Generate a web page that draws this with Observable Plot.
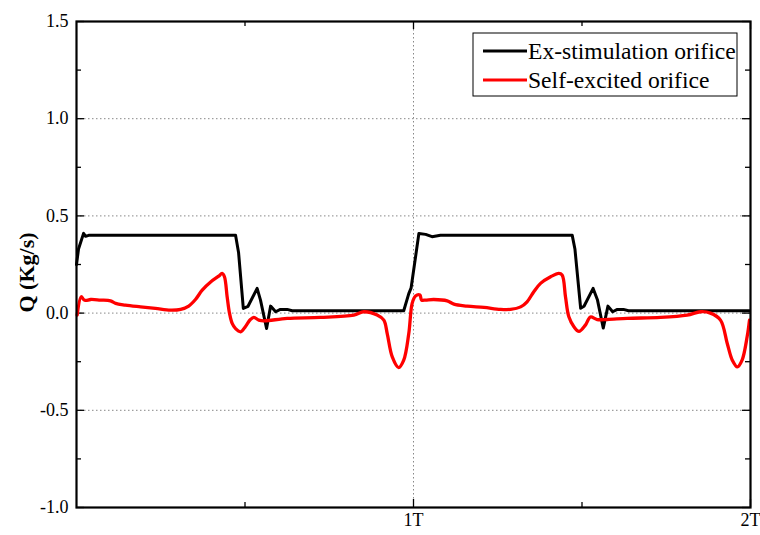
<!DOCTYPE html>
<html>
<head>
<meta charset="utf-8">
<script src="https://cdn.jsdelivr.net/npm/d3@7"></script>
<script src="https://cdn.jsdelivr.net/npm/@observablehq/plot@0.6"></script>
<style>
  html, body { margin: 0; padding: 0; background: #fff; }
  #chart { width: 760px; height: 535px; }
</style>
</head>
<body>
<div id="chart"></div>
<script>
// Time in periods (T), flow Q in Kg/s
const exT = [0.000,0.006,0.021,0.027,0.036,0.472,0.481,0.495,0.509,0.536,0.546,0.564,0.576,0.591,0.605,0.625,0.640,0.971,0.986,0.993,1.016,1.036,1.055,1.080,1.471,1.479,1.496,1.506,1.533,1.546,1.563,1.577,1.591,1.605,1.623,1.638,1.997];
const exQ = [0.25,0.33,0.41,0.395,0.40,0.40,0.31,0.024,0.035,0.127,0.067,-0.079,0.036,0.007,0.019,0.019,0.012,0.012,0.10,0.13,0.41,0.405,0.393,0.40,0.40,0.33,0.025,0.035,0.127,0.067,-0.077,0.036,0.007,0.019,0.019,0.012,0.012];

const seT = [0.002,0.014,0.021,0.027,0.042,0.071,0.101,0.116,0.145,0.190,0.234,0.279,0.309,0.333,0.353,0.373,0.398,0.422,0.432,0.439,0.447,0.454,0.462,0.472,0.487,0.501,0.516,0.526,0.541,0.556,0.625,0.724,0.823,0.853,0.892,0.912,0.922,0.937,0.956,0.971,0.986,0.996,1.006,1.019,1.024,1.036,1.060,1.100,1.120,1.159,1.209,1.258,1.288,1.318,1.337,1.357,1.377,1.407,1.431,1.441,1.451,1.461,1.476,1.491,1.510,1.525,1.545,1.575,1.634,1.733,1.812,1.852,1.881,1.911,1.931,1.946,1.961,1.975,1.990,1.997];
const seQ = [-0.01,0.084,0.07,0.065,0.07,0.067,0.063,0.05,0.041,0.032,0.024,0.015,0.019,0.036,0.07,0.118,0.16,0.19,0.204,0.187,0.084,0.0,-0.053,-0.08,-0.096,-0.07,-0.033,-0.022,-0.036,-0.04,-0.027,-0.022,-0.01,0.007,-0.01,-0.036,-0.105,-0.225,-0.28,-0.242,-0.105,0.05,0.088,0.093,0.067,0.067,0.07,0.063,0.046,0.036,0.029,0.019,0.019,0.032,0.058,0.11,0.153,0.187,0.204,0.196,0.084,-0.019,-0.07,-0.094,-0.062,-0.02,-0.033,-0.033,-0.027,-0.022,-0.01,0.007,0.0,-0.036,-0.156,-0.242,-0.277,-0.242,-0.122,-0.036];

const seriesNames = ["Ex-stimulation orifice", "Self-excited orifice"];
const seriesColors = ["#000000", "#ff0000"];
const yTickLabels = [-1.0, -0.5, 0.0, 0.5, 1.0, 1.5];
const yMinorTicks = [-0.75, -0.25, 0.25, 0.75, 1.25];
const yGrid = [-0.5, 0.0, 0.5, 1.0];
const xTickLabels = [1, 2];
const xMinorTicks = [0.5, 1.5];
const xGrid = [1];
const yLabel = "Q (Kg/s)";

const ex = exT.map((t, i) => ({t, q: exQ[i]}));
const se = seT.map((t, i) => ({t, q: seQ[i]}));

const W = 760, H = 535;
const mL = 76, mR = 10, mT = 21, mB = 28;
const fw = W - mL - mR, fh = H - mT - mB;
const majorLen = 8, minorLen = 5;
const FONT = "'Liberation Serif', 'Times New Roman', Times, serif";

const chart = Plot.plot({
  width: W, height: H,
  marginLeft: mL, marginRight: mR, marginTop: mT, marginBottom: mB,
  style: {fontFamily: FONT, fontSize: "18px", background: "#fff", color: "#000"},
  x: {domain: [0, 2], axis: null},
  y: {domain: [-1, 1.5], axis: null},
  marks: [
    Plot.ruleY(yGrid, {stroke: "#888", strokeDasharray: "1.5,2.5", strokeWidth: 1}),
    Plot.ruleX(xGrid, {stroke: "#888", strokeDasharray: "1.5,2.5", strokeWidth: 1}),
    // inward ticks left & right
    Plot.ruleY(yTickLabels, {stroke: "#000", strokeWidth: 1.3, insetRight: fw - majorLen}),
    Plot.ruleY(yMinorTicks, {stroke: "#000", strokeWidth: 1.3, insetRight: fw - minorLen}),
    Plot.ruleY(yTickLabels, {stroke: "#000", strokeWidth: 1.3, insetLeft: fw - majorLen}),
    Plot.ruleY(yMinorTicks, {stroke: "#000", strokeWidth: 1.3, insetLeft: fw - minorLen}),
    // inward ticks bottom & top
    Plot.ruleX(xTickLabels, {stroke: "#000", strokeWidth: 1.3, insetTop: fh - majorLen}),
    Plot.ruleX(xMinorTicks, {stroke: "#000", strokeWidth: 1.3, insetTop: fh - minorLen}),
    Plot.ruleX(xTickLabels, {stroke: "#000", strokeWidth: 1.3, insetBottom: fh - majorLen}),
    Plot.ruleX(xMinorTicks, {stroke: "#000", strokeWidth: 1.3, insetBottom: fh - minorLen}),
    Plot.line(ex, {x: "t", y: "q", stroke: seriesColors[0], strokeWidth: 3, curve: "linear"}),
    Plot.line(se, {x: "t", y: "q", stroke: seriesColors[1], strokeWidth: 3.3, curve: "catmull-rom"}),
    Plot.frame({stroke: "#000", strokeWidth: 2.2}),
    Plot.axisY(yTickLabels, {tickSize: 0, tickPadding: 8, tickFormat: d => d.toFixed(1), fontSize: 18, label: null}),
    Plot.axisX(xTickLabels, {tickSize: 0, tickPadding: 6, tickFormat: d => d + "T", fontSize: 18, label: null}),
    Plot.text([yLabel], {frameAnchor: "left", textAnchor: "middle", dx: -50, dy: 8, rotate: -90, fontWeight: "bold", fontSize: 22, fill: "#000"})
  ]
});

document.getElementById("chart").appendChild(chart);

// Legend box inside plot area (top-right)
const svg = d3.select(chart);
const lg = svg.append("g").attr("transform", `translate(${W - mR - 13 - 264},${mT + 12})`);
lg.append("rect").attr("x", 0).attr("y", 0).attr("width", 264).attr("height", 63)
  .attr("fill", "#fff").attr("stroke", "#000").attr("stroke-width", 1);
seriesNames.forEach((name, i) => {
  const yy = 18 + i * 29;
  lg.append("line").attr("x1", 10).attr("x2", 54).attr("y1", yy).attr("y2", yy)
    .attr("stroke", seriesColors[i]).attr("stroke-width", 3);
  lg.append("text").attr("x", 55).attr("y", yy).attr("dy", "0.35em")
    .attr("text-anchor", "start")
    .attr("font-family", FONT)
    .attr("font-size", 23.6).attr("fill", "#000").text(name);
});
</script>
</body>
</html>
